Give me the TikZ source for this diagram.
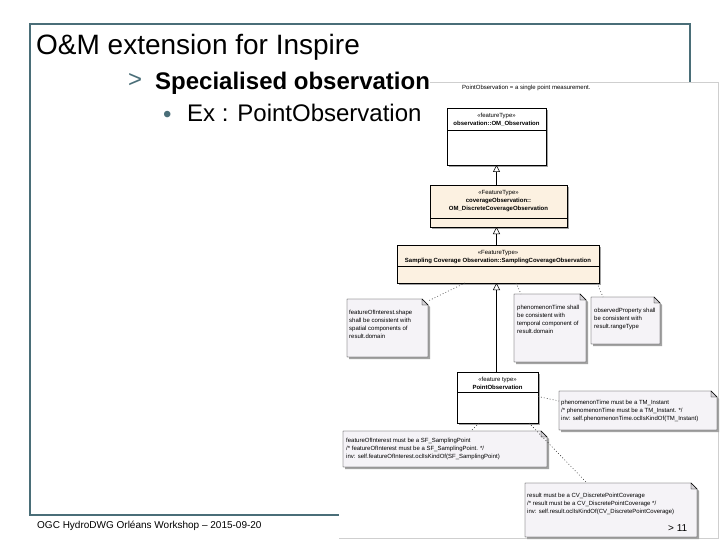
\documentclass[tikz,border=0pt]{standalone}
\usepackage{fontspec}
\setmainfont{Liberation Sans}
\usetikzlibrary{arrows.meta,calc}
\definecolor{framec}{HTML}{4A6E78}
\definecolor{beigec}{HTML}{FCF1E1}
\definecolor{notec}{HTML}{F5F3F7}
\definecolor{foldc}{HTML}{D4D2D6}
\definecolor{shadowc}{HTML}{A3A3A3}
\definecolor{imgborder}{HTML}{CFCFCF}
\newcommand\tinyfont{\fontsize{6}{8}\selectfont}
\newcommand\classbox[6]{%
  \fill[shadowc] ($(#2,#3)+(2,2)$) rectangle ($(#4,#5)+(2,2)$);
  \node[umlclass, fill=#6, minimum width={#4-#2}, minimum height={#5-#3}] (#1) at (#2,#3) {};}
\newcommand\notebox[5]{%
  \fill[shadowc] ($(#2,#3)+(2,2)$) -- ($(#4,#3)+(-4,2)$) -- ($(#4,#3)+(2,8)$) -- ($(#4,#5)+(2,2)$) -- ($(#2,#5)+(2,2)$) -- cycle;
  \node[notenode, minimum width={#4-#2}, minimum height={#5-#3}] (#1) at (#2,#3) {};
  \filldraw[fill=notec, draw=black, line width=0.4pt] (#1.north west) -- ($(#1.north east)+(-6,0)$) -- ($(#1.north east)+(0,6)$) -- (#1.south east) -- (#1.south west) -- cycle;
  \filldraw[fill=foldc, draw=black, line width=0.4pt] ($(#1.north east)+(-6,0)$) -- ($(#1.north east)+(-6,6)$) -- ($(#1.north east)+(0,6)$) -- cycle;}
\begin{document}
\begin{tikzpicture}[x=1pt,y=-1pt,
  umlclass/.style={draw=black, line width=0.5pt, anchor=north west, inner sep=0pt, outer sep=0pt},
  notenode/.style={anchor=north west, inner sep=0pt, outer sep=0pt},
  classtext/.style={anchor=north, inner sep=0pt, align=center, font=\tinyfont},
  notetext/.style={anchor=north west, inner sep=0pt, align=left, font=\tinyfont},
  slidetext/.style={anchor=base west, inner sep=0pt},
  gen/.style={-{Triangle[length=7pt,width=7pt,fill=white]}, line width=0.5pt},
  dep/.style={dash pattern=on 0.8pt off 2.2pt, line width=0.6pt, draw=black!80},
]
\useasboundingbox (0,0) rectangle (720,540);
\fill[white] (0,0) rectangle (720,540);
\draw[framec, line width=2pt] (30,24) rectangle (690,515);
% embedded diagram area
\fill[white] (339,82) rectangle (718,538);
\draw[imgborder, line width=0.8pt] (430,82) -- (718,82) -- (718,538) -- (339,538);

% slide texts
\node[slidetext, font=\fontsize{28}{32}\selectfont] (title) at (36,55) {O\&M extension for Inspire};
\node[slidetext, text=framec, font=\fontsize{24}{28}\selectfont] (gt) at (128,88) {>};
\node[slidetext, font=\fontsize{24}{28}\selectfont\bfseries] (spec) at (155,90) {Specialised observation};
\node[slidetext, text=framec, font=\fontsize{24}{28}\selectfont] (bul) at (163,123) {•};
\node[slidetext, font=\fontsize{24}{28}\selectfont] (ex) at (187,122) {Ex : PointObservation};
\node[slidetext, font=\fontsize{10}{12}\selectfont] (foot) at (37,528) {OGC HydroDWG Orléans Workshop – 2015-09-20};

% diagram caption
\node[anchor=west, inner sep=0pt, font=\tinyfont] (cap) at (462,88) {PointObservation = a single point measurement.};

% classes
\classbox{B1}{447}{108}{546}{165}{white}
\draw[line width=0.5pt] ($(B1.north west)+(0,22)$) -- ($(B1.north east)+(0,22)$);
\node[classtext] (B1t) at ($(B1.north)+(0,5)$) {«featureType»\\\textbf{observation::OM\_Observation}};

\classbox{B2}{430}{185}{567}{227}{beigec}
\draw[line width=0.5pt] ($(B2.north west)+(0,33)$) -- ($(B2.north east)+(0,33)$);
\node[classtext] (B2t) at ($(B2.north)+(0,5)$) {«FeatureType»\\\textbf{coverageObservation::}\\\textbf{OM\_DiscreteCoverageObservation}};

\classbox{B3}{397}{245}{599}{283}{beigec}
\draw[line width=0.5pt] ($(B3.north west)+(0,21)$) -- ($(B3.north east)+(0,21)$);
\node[classtext] (B3t) at ($(B3.north)+(0,5)$) {«FeatureType»\\\textbf{Sampling Coverage Observation::SamplingCoverageObservation}};

\classbox{B4}{457}{372}{538}{423}{white}
\draw[line width=0.5pt] ($(B4.north west)+(0,20)$) -- ($(B4.north east)+(0,20)$);
\node[classtext] (B4t) at ($(B4.north)+(0,5)$) {«feature type»\\\textbf{PointObservation}};

% generalisations
\draw[gen] (B2.north -| B1.south) -- (B1.south);
\draw[gen] (B3.north -| B1.south) -- (B2.south -| B1.south);
\draw[gen] (B4.north -| B1.south) -- (B3.south -| B1.south);

% notes
\notebox{N1}{347}{299}{428}{357}
\node[notetext] (N1t) at ($(N1.north west)+(2,11)$) {featureOfInterest.shape\\shall be consistent with\\spatial components of\\result.domain};
\notebox{N2}{514}{294}{586}{362}
\node[notetext] (N2t) at ($(N2.north west)+(3,11)$) {phenomenonTime shall\\be consistent with\\temporal component of\\result.domain};
\notebox{N3}{591}{297}{660}{344}
\node[notetext] (N3t) at ($(N3.north west)+(3,11)$) {observedProperty shall\\be consistent with\\result.rangeType};
\notebox{N4}{559}{391}{717}{430}
\node[notetext] (N4t) at ($(N4.north west)+(2,9)$) {phenomenonTime must be a TM\_Instant\\/* phenomenonTime must be a TM\_Instant. */\\inv: self.phenomenonTime.oclIsKindOf(TM\_Instant)};
\notebox{N5}{343}{431}{547}{467}
\node[notetext] (N5t) at ($(N5.north west)+(3,7)$) {featureOfInterest must be a SF\_SamplingPoint\\/* featureOfInterest must be a SF\_SamplingPoint. */\\inv: self.featureOfInterest.oclIsKindOf(SF\_SamplingPoint)};
\notebox{N6}{525}{483}{697}{537}
\node[notetext] (N6t) at ($(N6.north west)+(2,10)$) {result must be a CV\_DiscretePointCoverage\\/* result must be a CV\_DiscretePointCoverage */\\inv: self.result.oclIsKindOf(CV\_DiscretePointCoverage)};

% constraint connectors
\draw[dep] ($(B3.south west)+(68,0)$) -- ($(N1.north east)+(0,2)$);
\draw[dep] ($(B3.south west)+(119,0)$) -- ($(N2.north west)+(7,0)$);
\draw[dep] ($(B3.south east)+(-2,0)$) -- ($(N3.north west)+(12,0)$);
\draw[dep] ($(B4.east)+(0,-1)$) -- ($(N4.north west)+(0,10)$);
\draw[dep] ($(B4.south west)+(22,0)$) -- ($(N5.north west)+(128,0)$);
\draw[dep] ($(B4.south east)+(-9,0)$) -- ($(N6.north west)+(62,0)$);

\node[slidetext, font=\fontsize{10}{12}\selectfont] (pg) at (668,531) {> 11};
\end{tikzpicture}
\end{document}
